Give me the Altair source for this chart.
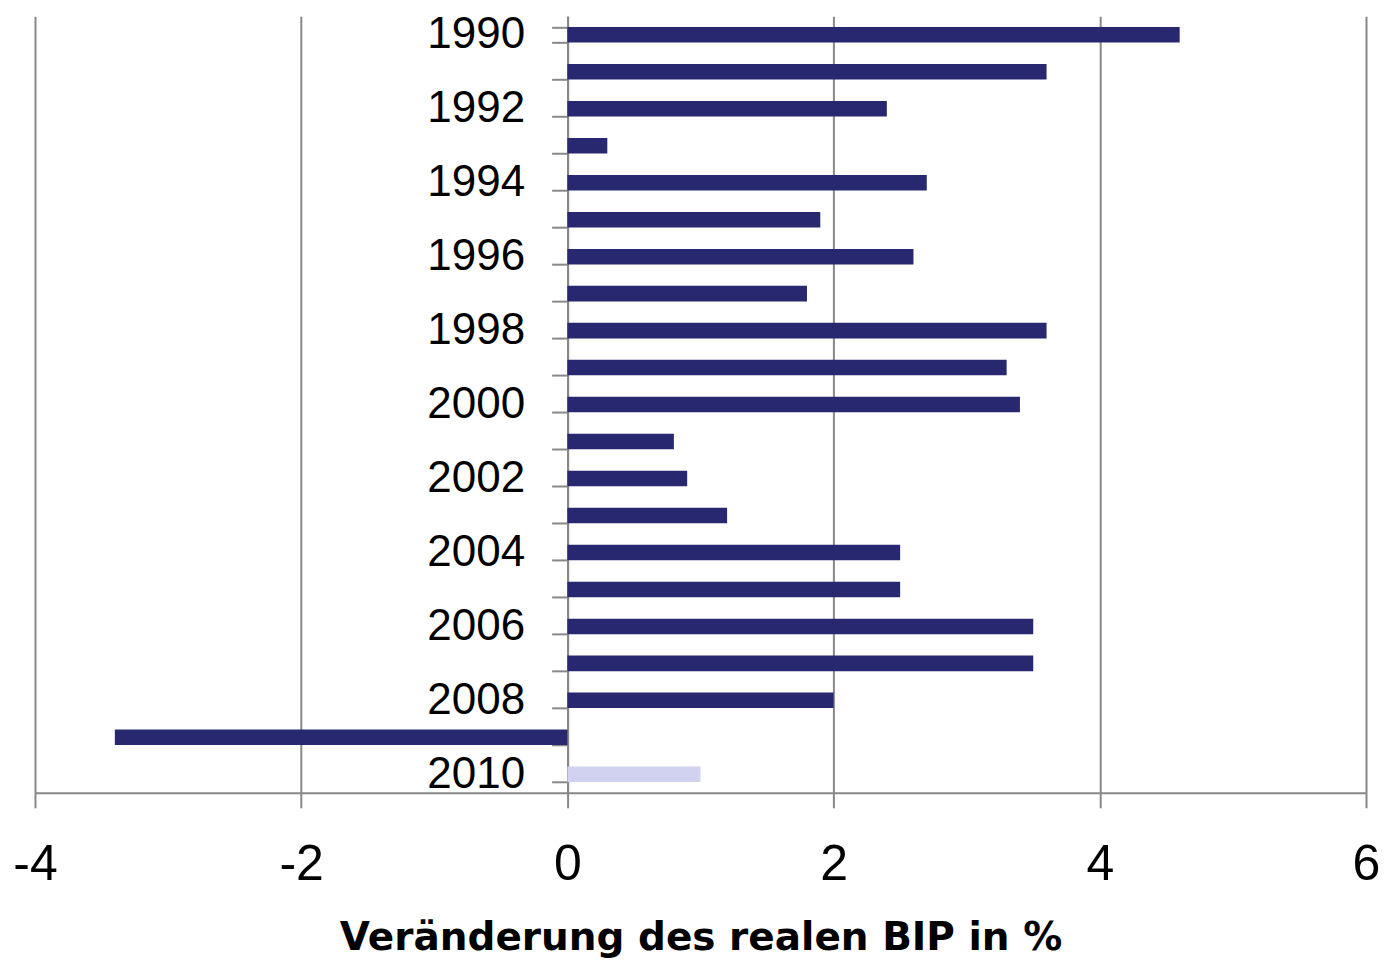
import altair as alt
import pandas as pd

years = [str(y) for y in range(1990, 2011)]
values = [4.6, 3.6, 2.4, 0.3, 2.7, 1.9, 2.6, 1.8, 3.6, 3.3, 3.4,
          0.8, 0.9, 1.2, 2.5, 2.5, 3.5, 3.5, 2.0, -3.4, 1.0]
kind = ["actual"] * 20 + ["forecast"]
x_ticks = [-4, -2, 0, 2, 4, 6]

df = pd.DataFrame({"year": years, "value": values, "kind": kind})

GRAY = "#888888"

chart = alt.Chart(df).mark_bar().encode(
    y=alt.Y("year:O", title=None,
            scale=alt.Scale(paddingInner=0.58, paddingOuter=0.29),
            axis=alt.Axis(
                offset=-533, tickBand="extent", domainColor=GRAY, domainWidth=2,
                tickColor=GRAY, tickWidth=2, tickSize=16, labelFontSize=44,
                labelFont="Liberation Sans", labelColor="black", labelPadding=27,
                labelExpr="toNumber(datum.value) % 2 == 0 ? datum.value : ''",
                grid=False)),
    x=alt.X("value:Q", title="Veränderung des realen BIP in %",
            scale=alt.Scale(domain=[-4, 6], nice=False, zero=False),
            axis=alt.Axis(values=x_ticks, grid=True, gridColor=GRAY,
                          gridWidth=2, gridOpacity=1, domainColor=GRAY, domainWidth=2,
                          tickColor=GRAY, tickWidth=2, tickSize=15,
                          labelFontSize=50, labelFont="Liberation Sans",
                          labelColor="black", labelPadding=32, labelFlush=False,
                          labelExpr="datum.value + ''",
                          titleFontSize=39, titleFont="DejaVu Sans", titleFontWeight="bold",
                          titleColor="black", titlePadding=29)),
    color=alt.Color("kind:N", legend=None,
                    scale=alt.Scale(domain=["actual", "forecast"],
                                    range=["#282870", "#D0D2F0"])),
).properties(
    width=1332, height=777,
    background="white",
    autosize=alt.AutoSizeParams(type="none"),
    padding={"left": 27, "top": 8, "right": 14, "bottom": 168},
).configure_view(stroke=None)

chart.save("out.html", embed_options={"renderer": "svg", "actions": False})
